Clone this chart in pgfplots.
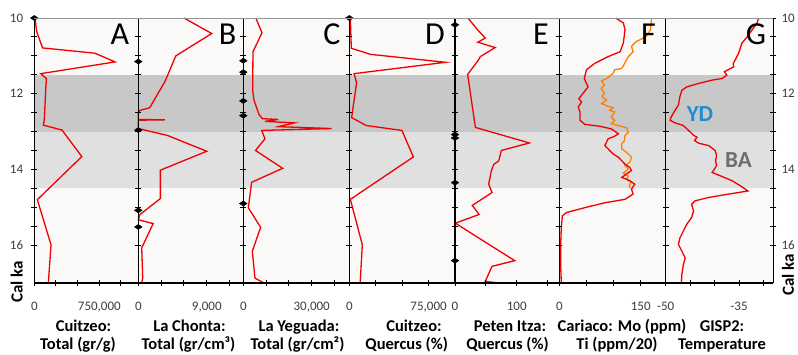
\documentclass[border=0pt]{standalone}
\usepackage{fontspec}
\setmainfont{Carlito}
\usepackage{pgfplots}
\pgfplotsset{compat=1.18}
\definecolor{bgc}{RGB}{250,249,248}
\definecolor{bandD}{RGB}{200,200,200}
\definecolor{bandL}{RGB}{224,224,224}
\definecolor{tickc}{RGB}{60,60,60}
\definecolor{ydc}{RGB}{30,142,210}
\definecolor{bac}{RGB}{110,110,110}
\definecolor{cred}{RGB}{240,0,0}
\definecolor{corange}{RGB}{255,128,0}
\definecolor{topc}{RGB}{150,150,150}

\pgfplotsset{
 panel/.style={
   scale only axis, height=265pt,
   ymin=10, ymax=17, y dir=reverse,
   axis x line*=bottom, axis y line*=left,
   axis line style={line width=1.3pt, black, -},
   axis background/.style={fill=bgc},
   axis on top, clip=false,
   ytick={10,12,14,16}, minor y tick num=3,
   yticklabels={},
   tick align=center, major tick length=6pt, minor tick length=6pt,
   every tick/.style={black, line width=1pt},
   tick label style={font=\fontsize{13}{13}\selectfont, text=tickc},
   xticklabel style={anchor=north, inner sep=0pt, yshift=-16pt},
   yticklabel style={anchor=east, inner sep=0pt},
   scaled x ticks=false,
 },
 curve/.style={color=cred, line width=1.3pt, mark=none},
 dia/.style={only marks, mark=diamond*, mark size=3.2pt, mark options={fill=black, draw=black, xscale=1.6, yscale=0.8}},
}
\newcommand{\bands}[2]{%
  \fill[bandD] (axis cs:#1,11.5) rectangle (axis cs:#2,13);
  \fill[bandL] (axis cs:#1,13) rectangle (axis cs:#2,14.5);
}
\newcommand{\ttl}[4]{%
  \node[font=\bfseries\fontsize{16.5}{16.5}\selectfont, anchor=base, inner sep=0pt] at (#1pt,23pt) {#2};
  \node[font=\bfseries\fontsize{16.5}{16.5}\selectfont, anchor=base, inner sep=0pt] at (#3pt,4.5pt) {#4};
}
\newcommand{\lett}[2]{%
  \node[font=\fontsize{32}{32}\selectfont, anchor=base, inner sep=0pt] at (#1pt,309pt) {#2};
}

\begin{document}
\begin{tikzpicture}[x=1pt,y=1pt]
\useasboundingbox (0,0) rectangle (798pt,354pt);

% A
\begin{axis}[panel, at={(34.3pt,71pt)}, width=104pt,
  xmin=0, xmax=1200000, xtick={0,250000,500000,750000,1000000},
  xticklabels={0,,,{750,000},}, yticklabels={10,12,14,16},
  yticklabel style={xshift=-8pt}]
\bands{0}{1200000}
\addplot[curve] coordinates {(8000,10.0) (27000,10.35) (95000,10.79) (700000,10.93) (932000,11.16) (75000,11.47) (140000,11.6) (135000,11.75) (115000,12.7) (104000,12.83) (320000,12.96) (548000,13.66) (35000,14.8) (193000,15.99) (162000,17.0)};
\addplot[dia] coordinates {(0,10.0)};
\end{axis}

% B
\begin{axis}[panel, at={(138.3pt,71pt)}, width=105pt,
  xmin=0, xmax=13800, xtick={0,3000,6000,9000,12000},
  xticklabels={0,,,{9,000},}]
\bands{0}{13800}
\addplot[curve] coordinates {(6000,10.0) (9650,10.41) (4930,11.0) (3500,11.68) (1500,12.37) (220,12.44) (0,12.5) (0,12.68) (3500,12.69) (0,12.7) (0,12.92) (3800,13.1) (9000,13.52) (2900,14.02) (2900,14.77) (220,15.19) (0,15.33) (1950,15.43) (450,16.07) (580,16.87) (450,17.0)};
\addplot[dia] coordinates {(0,11.15) (0,12.96) (0,15.08) (0,15.52)};
\end{axis}

% C
\begin{axis}[panel, at={(243.3pt,71pt)}, width=106pt,
  xmin=0, xmax=46500, xtick={0,10000,20000,30000,40000},
  xticklabels={0,,,{30,000},}]
\bands{0}{46500}
\addplot[curve] coordinates {(5500,10.0) (8200,10.39) (4250,10.89) (4100,11.91) (4680,12.17) (6900,12.55) (8400,12.66) (15360,12.68) (9510,12.73) (22400,12.77) (15360,12.87) (38770,12.92) (8050,12.97) (9510,13.19) (5350,13.5) (17270,13.97) (3660,14.34) (2200,15.01) (7610,15.53) (3950,16.16) (5120,16.87) (9070,17.0)};
\addplot[dia] coordinates {(0,11.13) (0,11.43) (0,12.19) (0,12.58) (0,14.9)};
\end{axis}

% D
\begin{axis}[panel, at={(349.3pt,71pt)}, width=105.7pt,
  xmin=0, xmax=100000, xtick={0,25000,50000,75000,100000},
  xticklabels={0,,,{75,000},}]
\bands{0}{100000}
\addplot[curve] coordinates {(1000,10.0) (1900,10.8) (20000,10.96) (91000,11.17) (4500,11.47) (6900,11.71) (2200,12.63) (16000,12.84) (49800,12.97) (60600,13.67) (1000,14.79) (12300,15.99) (10300,17.0)};
\addplot[dia] coordinates {(0,10.0)};
\end{axis}

% E
\begin{axis}[panel, at={(455pt,71pt)}, width=104.3pt,
  xmin=0, xmax=169, xtick={0,50,100,150},
  xticklabels={0,,100,}]
\bands{0}{169}
\addplot[curve] coordinates {(21,10.0) (36,10.3) (49,10.53) (37,10.64) (65,10.78) (41,11.02) (38,11.11) (20.5,11.49) (33,12.89) (120.5,13.3) (75,13.5) (71,13.77) (62.7,13.87) (59,14.03) (54.6,14.39) (60,14.61) (28,14.95) (39,15.19) (0.5,15.42) (96.8,16.41) (60,16.56) (49,16.96) (73,17.0)};
\addplot[dia] coordinates {(0,10.18) (0,13.08) (0,13.17) (0,14.35) (0,16.41)};
\end{axis}

% F
\begin{axis}[panel, at={(559.3pt,71pt)}, width=106.4pt,
  xmin=0, xmax=196, xtick={0,50,100,150},
  xticklabels={0,,,150}]
\bands{0}{196}
\addplot[color=corange, line width=1.3pt] coordinates {(170,10.0) (168,10.31) (160,10.49) (142,10.62) (133,10.75) (136,10.89) (127,11.02) (121,11.18) (115,11.33) (102,11.37) (99,11.46) (95,11.51) (87,11.6) (78,11.66) (83,11.77) (77,11.86) (83,11.98) (79,12.08) (87,12.17) (78,12.26) (89,12.33) (99,12.37) (93,12.44) (102,12.48) (96,12.62) (102,12.7) (96,12.79) (109,12.84) (124,12.9) (127,13.02) (121,13.1) (120,13.24) (115,13.32) (115,13.46) (124,13.55) (133,13.68) (130,13.81) (121,13.9) (127,13.99) (118,14.1) (127,14.17) (124,14.26) (132,14.34) (129,14.43) (130,14.5)};
\addplot[curve] coordinates {(104,10.0) (118,10.13) (121,10.31) (118,10.66) (112,10.89) (90,11.02) (65,11.2) (50,11.37) (46,11.6) (53,11.82) (41,12.04) (36,12.13) (41,12.22) (35,12.35) (38,12.48) (38,12.7) (47,12.81) (75,12.86) (96,12.93) (109,13.06) (101,13.13) (90,13.19) (84,13.37) (90,13.46) (99,13.59) (109,13.68) (121,13.86) (130,13.95) (133,14.03) (124,14.12) (115,14.21) (124,14.26) (130,14.3) (139,14.39) (133,14.52) (136,14.65) (121,14.79) (84,14.88) (47,15.01) (13,15.14) (5.6,15.23) (3.7,15.54) (2.5,15.98) (2.5,16.52) (3.7,17.0)};
\end{axis}

% G
\begin{axis}[panel, at={(665.7pt,71pt)}, width=107.6pt,
  axis y line*=box, yticklabel pos=right,
  xmin=-50, xmax=-28, xtick={-50,-45,-40,-35,-30},
  xticklabels={-50,,,-35,}, yticklabels={10,12,14,16},
  yticklabel style={anchor=west, xshift=5pt}]
\bands{-50}{-28}
\addplot[curve] coordinates {(-31.0,10.0) (-31.3,10.13) (-32.3,10.31) (-33.3,10.49) (-34.4,10.66) (-35.1,10.93) (-35.8,11.11) (-36.2,11.2) (-36.1,11.29) (-37.3,11.37) (-38.0,11.42) (-37.5,11.51) (-38.5,11.6) (-40.5,11.64) (-43.3,11.73) (-45.7,11.82) (-46.7,11.91) (-47.1,12.08) (-47.4,12.3) (-48.1,12.44) (-48.9,12.62) (-49.1,12.7) (-48.1,12.77) (-46.4,12.84) (-45.0,13.01) (-44.3,13.1) (-43.6,13.15) (-44.1,13.24) (-43.2,13.31) (-41.2,13.37) (-39.9,13.5) (-39.6,13.63) (-39.8,13.77) (-39.6,13.9) (-40.5,14.08) (-38.8,14.17) (-36.4,14.3) (-34.4,14.46) (-33.2,14.57) (-37.1,14.65) (-41.2,14.74) (-44.0,14.83) (-44.7,14.92) (-44.3,15.1) (-44.7,15.27) (-45.7,15.45) (-46.4,15.63) (-47.1,15.81) (-47.4,15.98) (-46.7,16.16) (-46.0,16.34) (-46.4,16.52) (-46.7,16.78) (-46.8,17.0)};
\end{axis}

\draw[line width=0.8pt, topc] (34.3pt,336pt) -- (773.3pt,336pt);

\lett{120}{A}
\lett{227.5}{B}
\lett{332}{C}
\lett{435}{D}
\lett{541}{E}
\lett{648.5}{F}
\lett{756}{G}

\node[font=\bfseries\fontsize{23}{23}\selectfont, text=ydc] at (700pt,239.5pt) {YD};
\node[font=\bfseries\fontsize{23}{23}\selectfont, text=bac] at (738.5pt,193.5pt) {BA};

\node[rotate=90, font=\bfseries\fontsize{17}{17}\selectfont] at (16.7pt,72pt) {Cal ka};
\node[rotate=90, font=\bfseries\fontsize{17}{17}\selectfont, inner sep=1pt] at (788pt,79pt) {Cal ka};

\ttl{83.5}{Cuitzeo:}{78}{Total (gr/g)}
\ttl{189.5}{La Chonta:}{188.5}{Total (gr/cm³)}
\ttl{299}{La Yeguada:}{297.5}{Total (gr/cm²)}
\ttl{414}{Cuitzeo:}{406.7}{Quercus (\%)}
\ttl{510}{Peten Itza:}{507.5}{Quercus (\%)}
\ttl{622}{Cariaco: Mo (ppm)}{617}{Ti (ppm/20)}
\ttl{722}{GISP2:}{722}{Temperature}
\end{tikzpicture}
\end{document}
